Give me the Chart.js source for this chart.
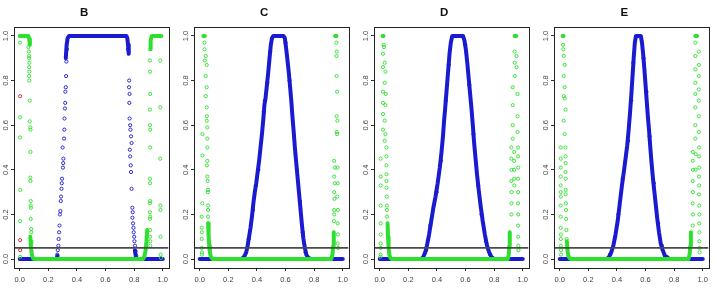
<!DOCTYPE html>
<html>
<head>
<meta charset="utf-8">
<script src="https://cdn.jsdelivr.net/npm/chart.js@4.4.1/dist/chart.umd.min.js"></script>
<style>
  html, body { margin: 0; padding: 0; background: #fff; }
  #wrap { display: flex; width: 720px; height: 291px; }
  canvas { display: block; }
</style>
</head>
<body>
<div id="wrap">
  <canvas id="pB" width="180" height="291"></canvas>
  <canvas id="pC" width="180" height="291"></canvas>
  <canvas id="pD" width="180" height="291"></canvas>
  <canvas id="pE" width="180" height="291"></canvas>
</div>
<script>
// panel titles and axis ticks
const panelNames = ['B', 'C', 'D', 'E']
const xTicks = [0, 0.2, 0.4, 0.6, 0.8, 1.0]
const yTicks = [0, 0.2, 0.4, 0.6, 0.8, 1.0]
const xMin = -0.04, xMax = 1.04
const threshold = 0.05

// ---- panel B ----
const B_blueBand = [[0,0],[0.255,0],[0.265,0.015],[0.27,null],[0.322,0.9],[0.328,0.96],[0.335,0.99],[0.345,1],[0.745,1],[0.752,0.99],[0.757,0.96],[0.762,0.92],[0.77,null],[0.805,0.04],[0.812,0.01],[0.822,0],[1,0]]
const B_blueDots = [[0.262,0.02],[0.266,0.04],[0.27,0.06],[0.272,0.09],[0.275,0.12],[0.278,0.15],[0.281,0.2],[0.284,0.215],[0.287,0.26],[0.289,0.28],[0.292,0.315],[0.294,0.34],[0.296,0.36],[0.302,0.41],[0.304,0.43],[0.305,0.45],[0.3,0.5],[0.31,0.54],[0.312,0.58],[0.313,0.63],[0.316,0.675],[0.318,0.7],[0.319,0.75],[0.322,0.77],[0.324,0.82],[0.326,0.885],[0.33,0.94],
  [0.757,0.94],[0.765,0.8],[0.764,0.77],[0.768,0.74],[0.766,0.7],[0.768,0.63],[0.772,0.6],[0.774,0.58],[0.778,0.55],[0.782,0.52],[0.77,0.49],[0.772,0.46],[0.776,0.42],[0.778,0.39],[0.782,0.315],[0.787,0.23],[0.79,0.21],[0.788,0.185],[0.792,0.16],[0.795,0.14],[0.797,0.12],[0.8,0.1],[0.802,0.08],[0.806,0.06],[0.81,0.035],[0.814,0.015]]
const B_greenBand = [[0,1],[0.06,1],[0.067,0.985],[0.071,0.96],[0.073,null],[0.074,0.1],[0.079,0.05],[0.086,0.015],[0.095,0.002],[0.105,0],[0.86,0],[0.871,0.01],[0.88,0.04],[0.886,0.08],[0.891,0.13],[0.893,null],[0.912,0.94],[0.915,0.98],[0.922,0.998],[0.93,1],[0.99,1]]
const B_greenDots = [[0.002,0.97],[0.003,0.635],[0.002,0.545],[0.004,0.31],[0.003,0.17],[0.003,0.01],
  [0.06,0.95],[0.064,0.93],[0.066,0.91],[0.066,0.9],[0.067,0.88],[0.066,0.86],[0.067,0.84],[0.066,0.82],[0.067,0.8],[0.07,0.71],[0.07,0.617],[0.074,0.59],[0.075,0.58],[0.075,0.48],[0.074,0.365],[0.075,0.35],[0.077,0.26],[0.077,0.24],[0.078,0.23],[0.077,0.18],[0.08,0.135],[0.081,0.12],[0.082,0.08],[0.082,0.07],
  [0.91,0.89],[0.911,0.84],[0.912,0.74],[0.91,0.67],[0.911,0.6],[0.912,0.58],[0.912,0.5],[0.91,0.36],[0.911,0.34],[0.912,0.26],[0.911,0.25],[0.91,0.21],[0.912,0.19],[0.91,0.18],[0.912,0.13],[0.911,0.1],[0.913,0.08],[0.912,0.06],
  [0.982,0.89],[0.983,0.68],[0.982,0.45],[0.983,0.24],[0.984,0.22],[0.984,0.1],[0.985,0.02],[0.987,0.005]]
const B_redDots = [[0.003,0.73],[0.003,0.085],[0.003,0.04]]

// ---- panel C ----
const C_blueBand = [[0,0],[0.29,0],[0.31,0.01],[0.325,0.03],[0.335,0.06],[0.345,0.1],[0.355,0.14],[0.365,0.19],[0.375,0.25],[0.385,0.3],[0.395,0.34],[0.405,0.39],[0.415,0.44],[0.425,0.5],[0.435,0.56],[0.445,0.63],[0.452,0.69],[0.46,0.72],[0.468,0.77],[0.478,0.83],[0.488,0.9],[0.497,0.96],[0.505,0.99],[0.515,1],[0.585,1],[0.595,0.99],[0.603,0.95],[0.612,0.9],[0.622,0.84],[0.632,0.77],[0.64,0.71],[0.648,0.64],[0.657,0.57],[0.665,0.5],[0.675,0.43],[0.685,0.36],[0.695,0.29],[0.705,0.22],[0.715,0.15],[0.725,0.09],[0.735,0.05],[0.745,0.02],[0.76,0.005],[0.78,0],[1,0]]
const C_blueDots = [[0.342,0.09],[0.372,0.22],[0.392,0.33],[0.41,0.4],[0.448,0.66],[0.455,0.71],[0.472,0.79],[0.492,0.93],[0.6,0.97],[0.628,0.8],[0.652,0.61],[0.68,0.4],[0.7,0.26],[0.72,0.12],[0.74,0.03]]
const C_greenBand = [[0.025,1],[0.036,1],[0.038,null],[0.058,0.16],[0.062,0.11],[0.066,0.06],[0.071,0.03],[0.078,0.01],[0.09,0],[0.92,0],[0.928,0.02],[0.933,0.06],[0.937,0.12],[0.94,null],[0.946,1],[0.956,1]]
const C_greenDots = [[0.033,0.97],[0.034,0.94],[0.042,0.91],[0.036,0.89],[0.049,0.87],[0.042,0.82],[0.049,0.77],[0.042,0.73],[0.049,0.68],[0.05,0.64],[0.049,0.62],[0.053,0.59],[0.019,0.56],[0.053,0.54],
  [0.053,0.5],[0.019,0.464],[0.053,0.44],[0.05,0.42],[0.053,0.37],[0.055,0.35],[0.058,0.31],[0.057,0.3],[0.058,0.24],[0.058,0.22],[0.058,0.19],[0.018,0.25],[0.014,0.19],[0.014,0.14],[0.015,0.12],[0.014,0.09],[0.014,0.05],[0.015,0.02],[0.016,0.03],
  [0.955,0.97],[0.958,0.93],[0.956,0.91],[0.957,0.82],[0.96,0.75],[0.957,0.64],[0.962,0.62],[0.958,0.57],[0.96,0.56],
  [0.94,0.44],[0.945,0.41],[0.94,0.37],[0.944,0.34],[0.94,0.3],[0.942,0.27],[0.94,0.22],[0.94,0.2],[0.938,0.17],[0.963,0.41],[0.965,0.34],[0.962,0.28],[0.966,0.22],[0.964,0.16],[0.966,0.11],[0.965,0.07],[0.967,0.05]]

// ---- panel D ----
const D_blueBand = [[0,0],[0.29,0],[0.305,0.01],[0.318,0.03],[0.33,0.06],[0.345,0.11],[0.36,0.17],[0.375,0.23],[0.39,0.28],[0.405,0.34],[0.42,0.41],[0.432,0.48],[0.442,0.55],[0.45,0.62],[0.458,0.68],[0.468,0.76],[0.478,0.84],[0.488,0.92],[0.497,0.97],[0.507,1],[0.582,1],[0.592,0.98],[0.602,0.94],[0.612,0.88],[0.622,0.81],[0.632,0.74],[0.642,0.67],[0.652,0.59],[0.66,0.52],[0.67,0.45],[0.68,0.38],[0.692,0.31],[0.705,0.24],[0.72,0.17],[0.735,0.11],[0.75,0.06],[0.765,0.03],[0.78,0.01],[0.8,0],[1,0]]
const D_blueDots = [[0.325,0.04],[0.352,0.15],[0.398,0.3],[0.428,0.44],[0.462,0.71],[0.483,0.87],[0.598,0.96],[0.626,0.78],[0.655,0.56],[0.688,0.33],[0.712,0.2],[0.742,0.08],[0.772,0.02]]
const D_greenBand = [[0.02,1],[0.027,1],[0.03,null],[0.055,0.16],[0.058,0.1],[0.062,0.05],[0.067,0.02],[0.075,0.005],[0.085,0],[0.895,0],[0.902,0.02],[0.906,0.06],[0.909,0.12],[0.911,null],[0.943,1],[0.955,1]]
const D_greenDots = [[0.028,0.96],[0.03,0.95],[0.023,0.92],[0.035,0.88],[0.023,0.86],[0.04,0.84],[0.035,0.79],[0.023,0.75],[0.042,0.74],[0.023,0.7],[0.04,0.69],[0.023,0.65],[0.035,0.62],[0.023,0.58],[0.04,0.56],[0.035,0.53],
  [0.007,0.37],[0.007,0.33],[0.007,0.24],[0.007,0.16],[0.007,0.11],[0.007,0.07],[0.008,0.05],[0.006,0.45],[0.006,0.02],[0.004,0.01],
  [0.047,0.5],[0.047,0.46],[0.047,0.42],[0.048,0.38],[0.047,0.35],[0.048,0.32],[0.049,0.28],[0.05,0.24],[0.05,0.22],[0.05,0.19],
  [0.943,0.93],[0.956,0.91],[0.944,0.88],[0.956,0.86],[0.944,0.82],[0.93,0.77],[0.963,0.74],[0.93,0.69],[0.963,0.64],[0.93,0.6],[0.963,0.57],[0.93,0.54],
  [0.92,0.5],[0.92,0.45],[0.921,0.4],[0.92,0.35],[0.922,0.3],[0.921,0.25],[0.92,0.2],[0.94,0.48],[0.94,0.44],[0.94,0.4],[0.94,0.36],[0.941,0.33],
  [0.967,0.5],[0.967,0.46],[0.968,0.41],[0.967,0.36],[0.968,0.3],[0.967,0.25],[0.968,0.2],[0.967,0.15],[0.968,0.1],[0.969,0.06],[0.97,0.04]]

// ---- panel E ----
const E_blueBand = [[0,0],[0.33,0],[0.345,0.01],[0.36,0.03],[0.375,0.06],[0.39,0.11],[0.405,0.17],[0.42,0.25],[0.435,0.33],[0.45,0.4],[0.462,0.46],[0.472,0.51],[0.482,0.58],[0.492,0.66],[0.502,0.75],[0.51,0.83],[0.518,0.91],[0.525,0.97],[0.533,1],[0.567,1],[0.575,0.97],[0.583,0.92],[0.592,0.85],[0.6,0.78],[0.608,0.71],[0.616,0.64],[0.624,0.58],[0.632,0.51],[0.642,0.43],[0.652,0.36],[0.662,0.3],[0.672,0.24],[0.682,0.18],[0.694,0.12],[0.706,0.07],[0.72,0.04],[0.735,0.015],[0.755,0.005],[0.77,0],[1,0]]
const E_blueDots = [[0.352,0.02],[0.387,0.1],[0.41,0.2],[0.44,0.36],[0.478,0.53],[0.5,0.71],[0.514,0.88],[0.586,0.9],[0.606,0.75],[0.628,0.55],[0.658,0.34],[0.688,0.16],[0.715,0.06],[0.75,0.01]]
const E_greenBand = [[0.02,1],[0.027,1],[0.03,null],[0.05,0.08],[0.054,0.04],[0.06,0.015],[0.07,0.003],[0.08,0],[0.9,0],[0.908,0.02],[0.913,0.06],[0.917,0.12],[0.919,null],[0.948,1],[0.96,1]]
const E_greenDots = [[0.023,0.96],[0.025,0.94],[0.028,0.91],[0.035,0.87],[0.028,0.82],[0.035,0.77],[0.028,0.73],[0.035,0.72],[0.04,0.67],[0.028,0.62],[0.035,0.56],
  [0.007,0.5],[0.007,0.45],[0.007,0.41],[0.007,0.37],[0.007,0.33],[0.007,0.3],[0.008,0.28],[0.007,0.24],[0.007,0.19],[0.007,0.14],[0.008,0.11],[0.008,0.09],[0.008,0.06],[0.009,0.04],[0.009,0.02],
  [0.04,0.5],[0.04,0.46],[0.041,0.43],[0.04,0.39],[0.041,0.36],[0.042,0.31],[0.042,0.29],[0.043,0.25],[0.044,0.22],[0.045,0.18],[0.047,0.13],[0.048,0.09],
  [0.948,0.97],[0.972,0.93],[0.948,0.91],[0.972,0.87],[0.948,0.85],[0.972,0.82],[0.948,0.79],[0.972,0.76],[0.948,0.74],[0.972,0.71],[0.948,0.68],[0.972,0.64],[0.948,0.6],[0.972,0.57],[0.948,0.54],
  [0.93,0.48],[0.93,0.44],[0.931,0.4],[0.93,0.35],[0.931,0.3],[0.93,0.25],[0.932,0.2],[0.93,0.15],[0.95,0.47],[0.95,0.4],
  [0.974,0.5],[0.974,0.46],[0.975,0.41],[0.974,0.37],[0.975,0.33],[0.974,0.29],[0.975,0.24],[0.976,0.2],[0.975,0.16],[0.976,0.12],[0.976,0.08],[0.977,0.05],[0.978,0.03]]

const panelData = {
  B: { blueBand: B_blueBand, blueDots: B_blueDots, greenBand: B_greenBand, greenDots: B_greenDots, redDots: B_redDots },
  C: { blueBand: C_blueBand, blueDots: C_blueDots, greenBand: C_greenBand, greenDots: C_greenDots, redDots: [] },
  D: { blueBand: D_blueBand, blueDots: D_blueDots, greenBand: D_greenBand, greenDots: D_greenDots, redDots: [] },
  E: { blueBand: E_blueBand, blueDots: E_blueDots, greenBand: E_greenBand, greenDots: E_greenDots, redDots: [] }
}

const BLUE = '#1a1ad0'
const GREEN = '#2ee02e'
const RED = '#d02020'
const tickFont = { family: 'Liberation Sans', size: 7.5 }

const pts = arr => arr.map(([x, y]) => ({ x, y }))

const band = (data, color, order) => ({
  data: pts(data), showLine: true, borderColor: color, borderWidth: 4,
  pointRadius: 0, spanGaps: false, order, borderCapStyle: 'round', borderJoinStyle: 'round'
})
const dots = (data, color, order) => ({
  data: pts(data), showLine: false, pointStyle: 'circle', pointRadius: 1.6,
  pointBorderWidth: 0.9, pointBorderColor: color, pointBackgroundColor: 'rgba(0,0,0,0)', order
})

// R style box round the plot area
const boxPlugin = {
  id: 'box',
  afterDraw(chart) {
    const { ctx, chartArea: a } = chart
    ctx.save()
    ctx.strokeStyle = '#222'
    ctx.lineWidth = 1
    ctx.strokeRect(Math.round(a.left) + 0.5, Math.round(a.top) + 0.5, Math.round(a.right - a.left), Math.round(a.bottom - a.top))
    ctx.restore()
  }
}

panelNames.forEach(name => {
  const d = panelData[name]
  new Chart(document.getElementById('p' + name), {
    type: 'scatter',
    data: {
      datasets: [
        { data: [{ x: xMin, y: threshold }, { x: xMax, y: threshold }], showLine: true,
          borderColor: '#4a4a4a', borderWidth: 1.6, pointRadius: 0, order: 0 },
        dots(d.redDots, RED, 1),
        dots(d.greenDots, GREEN, 2),
        band(d.greenBand, GREEN, 3),
        dots(d.blueDots, BLUE, 4),
        band(d.blueBand, BLUE, 5)
      ]
    },
    options: {
      responsive: false,
      animation: false,
      events: [],
      layout: { padding: { left: 0, right: 11.5, top: 0, bottom: 0 } },
      plugins: {
        legend: { display: false },
        tooltip: { enabled: false },
        title: {
          display: true, text: name, color: '#111',
          font: { family: 'Liberation Sans', size: 11.5, weight: 'bold', lineHeight: 1.2 },
          padding: { top: 5.6, bottom: 7.6 }
        }
      },
      scales: {
        x: {
          type: 'linear', min: xMin, max: xMax,
          afterBuildTicks: s => { s.ticks = xTicks.map(v => ({ value: v })) },
          afterFit: s => { s.height = 23 },
          grid: { drawOnChartArea: false, drawTicks: true, tickLength: 3, color: '#333' },
          border: { display: false },
          ticks: { font: tickFont, color: '#444', padding: 4, maxRotation: 0, minRotation: 0,
                    callback: v => Number(v).toFixed(1) }
        },
        y: {
          type: 'linear', min: -0.04, max: 1.04,
          afterBuildTicks: s => { s.ticks = yTicks.map(v => ({ value: v })) },
          afterFit: s => { s.width = 14 },
          grid: { drawOnChartArea: false, drawTicks: true, tickLength: 3, color: '#333' },
          border: { display: false },
          ticks: { font: tickFont, color: '#444', padding: 0, minRotation: 90, maxRotation: 90,
                   crossAlign: 'center', callback: v => Number(v).toFixed(1) }
        }
      }
    },
    plugins: [boxPlugin]
  })
})
</script>
</body>
</html>
